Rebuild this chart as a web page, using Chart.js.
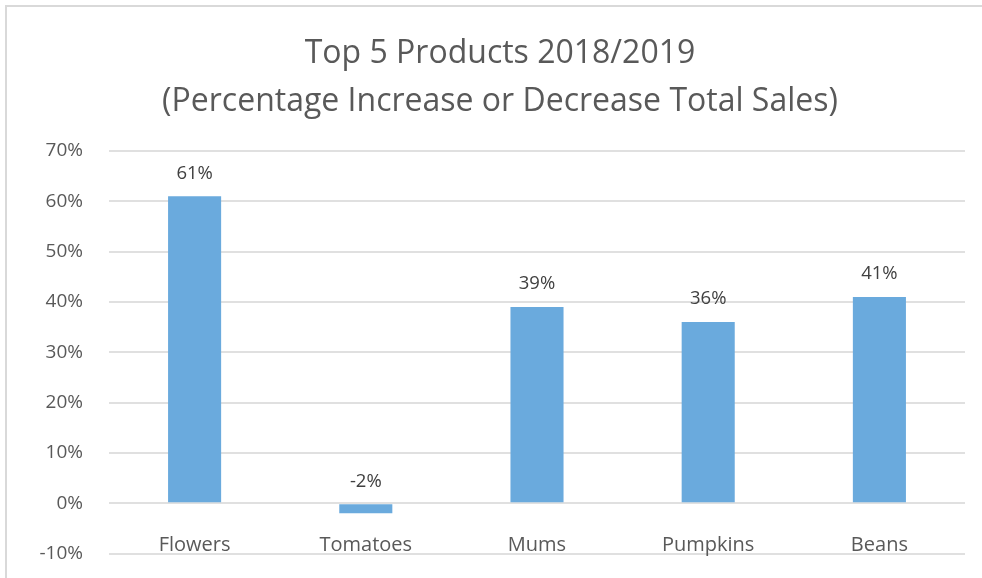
<!DOCTYPE html>
<html lang="en">
<head>
  <meta charset="UTF-8" />
  <title>Top 5 Products 2018/2019</title>
  <script src="https://cdn.jsdelivr.net/npm/chart.js"></script>
  <style>
    html, body { margin: 0; padding: 0; background: #fff; overflow: hidden; }
    #wrap {
      position: absolute; left: 5px; top: 5px;
      width: 990px; height: 573px; overflow: hidden;
      border-top: 2px solid #d9d9d9; border-left: 2px solid #d9d9d9;
    }
  </style>
</head>
<body>
  <div id="wrap">
    <canvas id="salesChart" width="990" height="584"></canvas>
  </div>

  <script>
    const products = ["Flowers", "Tomatoes", "Mums", "Pumpkins", "Beans"];
    const changePct = [61, -2, 39, 36, 41];
    const yTicks = { min: -10, max: 70, step: 10 };

    // value labels above each bar (or above the zero line for negative bars)
    const valueLabels = {
      id: 'valueLabels',
      afterDatasetsDraw(chart) {
        const ctx = chart.ctx;
        const meta = chart.getDatasetMeta(0);
        ctx.save();
        ctx.font = '18.5px "Open Sans"';
        ctx.fillStyle = '#404040';
        ctx.textAlign = 'center';
        ctx.textBaseline = 'middle';
        meta.data.forEach((bar, i) => {
          const top = Math.min(bar.y, bar.base);
          ctx.fillText(changePct[i] + '%', bar.x, top - 23);
        });
        ctx.restore();
      }
    };

    Chart.defaults.font.family = '"Open Sans", sans-serif';
    Chart.defaults.color = '#595959';

    const ctx = document.getElementById('salesChart').getContext('2d');
    new Chart(ctx, {
      type: 'bar',
      data: {
        labels: products,
        datasets: [{
          data: changePct,
          backgroundColor: '#6aaadd',
          borderWidth: 0,
          barPercentage: 0.31,
          categoryPercentage: 1
        }]
      },
      options: {
        responsive: false,
        animation: false,
        layout: { padding: { left: 28, right: 32, top: 0, bottom: 12 } },
        plugins: {
          legend: { display: false },
          tooltip: { enabled: false },
          title: {
            display: true,
            text: ['Top 5 Products 2018/2019', '(Percentage Increase or Decrease Total Sales)'],
            color: '#595959',
            font: { size: 32, weight: 'normal', lineHeight: 1.5 },
            padding: { top: 23, bottom: 25 }
          }
        },
        scales: {
          x: {
            position: { y: 0 },
            grid: { display: false },
            border: { display: false },
            ticks: { color: '#595959', font: { size: 20 }, padding: 22 }
          },
          y: {
            min: yTicks.min,
            max: yTicks.max,
            border: { display: false },
            grid: { color: '#e0e0e0', lineWidth: 2, drawTicks: false },
            ticks: {
              stepSize: yTicks.step,
              padding: 26,
              color: '#595959',
              font: { size: 19 },
              callback: v => v + '%'
            },
            afterFit(scale) { scale.width = 74; }
          }
        }
      },
      plugins: [valueLabels]
    });
  </script>
</body>
</html>
